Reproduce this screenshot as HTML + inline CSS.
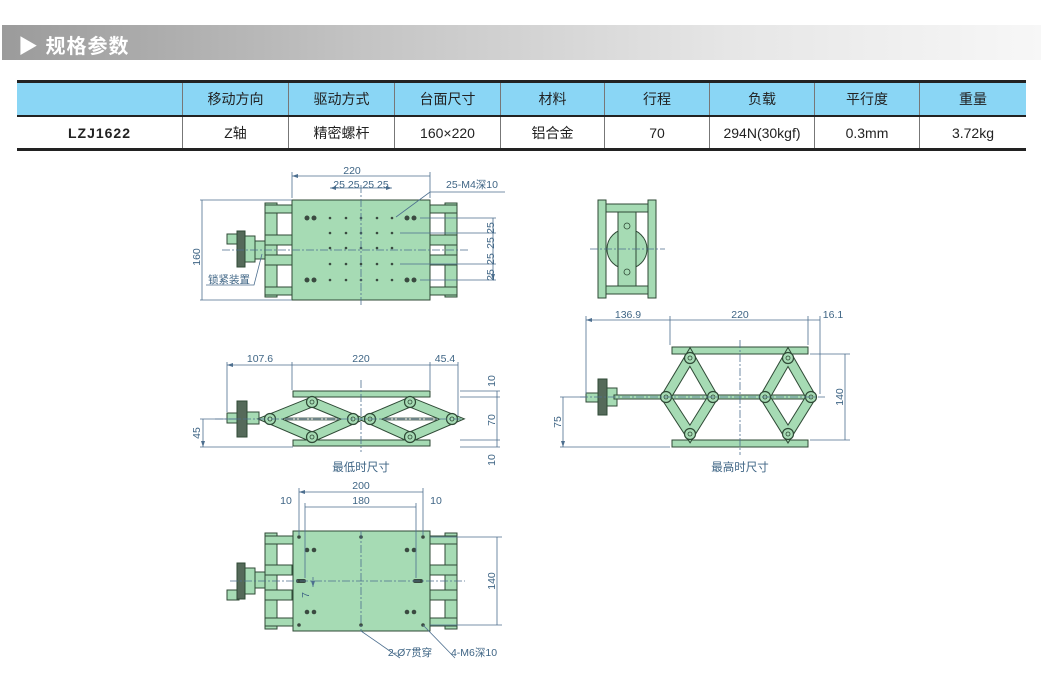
<!DOCTYPE html>
<html><head><meta charset="utf-8"><style>
body{margin:0;width:1041px;height:679px;background:#fff;position:relative;overflow:hidden;font-family:"Liberation Sans","Noto Sans CJK SC",sans-serif}
.bar{position:absolute;left:2px;top:25px;width:1039px;height:35px;background:linear-gradient(90deg,#9b9b9b 0%,#c4c4c4 35%,#e6e6e6 70%,#f7f7f7 100%)}
.bar span{position:absolute;left:16px;top:5px;color:#fff;font-weight:bold;font-size:20px;letter-spacing:1px}
table{position:absolute;left:17px;top:80px;border-collapse:collapse;font-size:14px;color:#222}
td{border-left:1px solid #777;text-align:center;padding:0}
tr.h td{background:#8ad6f5;height:32px;border-bottom:2px solid #222}
tr.r td{height:31px}
table{border-top:3px solid #222;border-bottom:3px solid #222}
td:first-child{border-left:none}
svg{position:absolute;left:0;top:0}
</style></head><body>
<div class="bar"><span>▶ 规格参数</span></div>
<table>
<tr class="h"><td style="width:165px"></td><td style="width:105px">移动方向</td><td style="width:105px">驱动方式</td><td style="width:105px">台面尺寸</td><td style="width:103px">材料</td><td style="width:104px">行程</td><td style="width:104px">负载</td><td style="width:104px">平行度</td><td style="width:106px">重量</td></tr>
<tr class="r"><td style="font-weight:bold;letter-spacing:1px">LZJ1622</td><td>Z轴</td><td>精密螺杆</td><td>160×220</td><td>铝合金</td><td>70</td><td>294N(30kgf)</td><td>0.3mm</td><td>3.72kg</td></tr>
</table>
<svg width="1041" height="679" viewBox="0 0 1041 679">
<defs>
<marker id="a" markerWidth="6" markerHeight="6" refX="6" refY="3" orient="auto-start-reverse" markerUnits="userSpaceOnUse"><path d="M0,1 L6,3 L0,5z" fill="#4d6f8f"/></marker>
<g id="row" fill="#3a4a40"><circle cx="330" cy="0" r="1.3"/><circle cx="346" cy="0" r="1.3"/><circle cx="361" cy="0" r="1.3"/><circle cx="377" cy="0" r="1.3"/><circle cx="392" cy="0" r="1.3"/></g>
</defs>
<g fill="#a6dbb4" stroke="#2f4a36" stroke-width="1">
<rect x="265" y="203" width="12" height="94"/><rect x="445" y="203" width="12" height="94"/>
<rect x="265" y="205" width="192" height="8"/><rect x="265" y="287" width="192" height="8"/>
<rect x="265" y="235" width="27" height="10"/><rect x="265" y="255" width="27" height="10"/>
<rect x="430" y="235" width="27" height="10"/><rect x="430" y="255" width="27" height="10"/>
<rect x="292" y="200" width="138" height="100"/>
<rect x="255" y="241" width="10" height="18"/>
<rect x="244" y="236" width="11" height="26"/>
<rect x="227" y="234" width="10" height="10" />
<rect x="237" y="231" width="8" height="36" fill="#556a5a"/>
<rect x="598" y="200" width="8" height="98"/><rect x="648" y="200" width="8" height="98"/>
<rect x="606" y="204" width="42" height="8"/><rect x="606" y="286" width="42" height="8"/>
<circle cx="627" cy="249" r="20"/>
<rect x="618" y="212" width="18" height="74"/>
<rect x="293" y="391" width="137" height="6"/><rect x="293" y="440" width="137" height="6"/>
<rect x="227" y="413" width="12" height="10"/>
<rect x="237" y="401" width="10" height="36" fill="#556a5a"/>
<rect x="247" y="412" width="12" height="12"/>
<rect x="672" y="347" width="136" height="7"/><rect x="672" y="440" width="136" height="7"/>
<rect x="586" y="393" width="14" height="9"/>
<rect x="598" y="379" width="9" height="36" fill="#556a5a"/>
<rect x="607" y="388" width="10" height="18"/>
<rect x="614" y="395" width="200" height="4"/>
<rect x="265" y="533" width="12" height="96"/><rect x="445" y="533" width="12" height="96"/>
<rect x="265" y="536" width="192" height="8"/><rect x="265" y="618" width="192" height="8"/>
<rect x="265" y="565" width="27" height="10"/><rect x="265" y="590" width="27" height="10"/>
<rect x="430" y="565" width="27" height="10"/><rect x="430" y="590" width="27" height="10"/>
<rect x="293" y="531" width="137" height="100"/>
<rect x="255" y="572" width="10" height="16"/>
<rect x="244" y="568" width="11" height="26"/>
<rect x="227" y="590" width="12" height="10"/>
<rect x="237" y="563" width="8" height="36" fill="#556a5a"/>
</g>
<path d="M259,418 H460 M260,420 H460" stroke="#2f4a36" stroke-width="0.8"/>
<g stroke-linecap="round" fill="none">
<g stroke="#2f4a36" stroke-width="10.5">
<path d="M270,419 L312,402 L353,419 L312,437 Z M370,419 L410,402 L452,419 L410,437 Z"/>
<path d="M690,357 L666,397 L690,434 L713,397 Z M788,357 L765,397 L788,434 L811,397 Z"/>
</g>
<g stroke="#a6dbb4" stroke-width="8.5">
<path d="M270,419 L312,402 L353,419 L312,437 Z M370,419 L410,402 L452,419 L410,437 Z"/>
<path d="M690,357 L666,397 L690,434 L713,397 Z M788,357 L765,397 L788,434 L811,397 Z"/>
</g>
</g>
<g fill="#a6dbb4" stroke="#2f4a36" stroke-width="1.2">
<circle cx="270" cy="419" r="5.5"/><circle cx="312" cy="402" r="5.5"/><circle cx="353" cy="419" r="5.5"/><circle cx="312" cy="437" r="5.5"/>
<circle cx="370" cy="419" r="5.5"/><circle cx="410" cy="402" r="5.5"/><circle cx="452" cy="419" r="5.5"/><circle cx="410" cy="437" r="5.5"/>
<circle cx="690" cy="358" r="5.5"/><circle cx="666" cy="397" r="5.5"/><circle cx="713" cy="397" r="5.5"/><circle cx="690" cy="434" r="5.5"/>
<circle cx="788" cy="358" r="5.5"/><circle cx="765" cy="397" r="5.5"/><circle cx="811" cy="397" r="5.5"/><circle cx="788" cy="434" r="5.5"/>
</g>
<g fill="none" stroke="#2f4a36" stroke-width="0.8">
<circle cx="270" cy="419" r="2"/><circle cx="312" cy="402" r="2"/><circle cx="353" cy="419" r="2"/><circle cx="312" cy="437" r="2"/>
<circle cx="370" cy="419" r="2"/><circle cx="410" cy="402" r="2"/><circle cx="452" cy="419" r="2"/><circle cx="410" cy="437" r="2"/>
<circle cx="690" cy="358" r="2"/><circle cx="666" cy="397" r="2"/><circle cx="713" cy="397" r="2"/><circle cx="690" cy="434" r="2"/>
<circle cx="788" cy="358" r="2"/><circle cx="765" cy="397" r="2"/><circle cx="811" cy="397" r="2"/><circle cx="788" cy="434" r="2"/>
<circle cx="627" cy="226" r="3" fill="#a6dbb4"/><circle cx="627" cy="272" r="3" fill="#a6dbb4"/>
</g>
<g fill="#3a4a40">
<circle cx="307" cy="218" r="2.5"/><circle cx="314" cy="218" r="2.5"/><circle cx="407" cy="218" r="2.5"/><circle cx="414" cy="218" r="2.5"/>
<circle cx="307" cy="280" r="2.5"/><circle cx="314" cy="280" r="2.5"/><circle cx="407" cy="280" r="2.5"/><circle cx="414" cy="280" r="2.5"/>
<use href="#row" y="218"/><use href="#row" y="233"/><use href="#row" y="248"/><use href="#row" y="264"/><use href="#row" y="280"/>
<circle cx="307" cy="550" r="2.3"/><circle cx="314" cy="550" r="2.3"/><circle cx="407" cy="550" r="2.3"/><circle cx="414" cy="550" r="2.3"/>
<circle cx="307" cy="612" r="2.3"/><circle cx="314" cy="612" r="2.3"/><circle cx="407" cy="612" r="2.3"/><circle cx="414" cy="612" r="2.3"/>
<circle cx="299" cy="537" r="1.8"/><circle cx="361" cy="537" r="1.8"/><circle cx="423" cy="537" r="1.8"/>
<circle cx="299" cy="625" r="1.8"/><circle cx="361" cy="625" r="1.8"/><circle cx="423" cy="625" r="1.8"/>
<rect x="296" y="579" width="10" height="4" rx="2"/><rect x="413" y="579" width="10" height="4" rx="2"/>
</g>
<g stroke="#4d6f8f" stroke-width="0.8" stroke-dasharray="8,2,2,2" fill="none">
<path d="M222,250 H470 M361,185 V305 M215,419 H462 M361,380 V452 M580,397 H825 M740,340 V455 M230,581 H465 M361,531 V631 M590,249 H665"/>
</g>
<g stroke="#4d6f8f" stroke-width="0.8" fill="none">
<path d="M292,198 V172 M430,198 V172 M200,200 H292 M200,300 H292 M496,218 H420 M496,233 H400 M496,264 H400 M496,280 H420"/>
<path d="M227,412 V362 M292,390 V362 M430,390 V362 M458,416 V362 M460,391 H500 M460,397 H500 M460,440 H500 M460,447 H500 M200,419 H240 M200,447 H293"/>
<path d="M586,394 V316 M670,345 V316 M808,345 V316 M820,394 V316 M810,354 H850 M810,440 H850 M560,397 H586 M560,447 H670"/>
<path d="M299,535 V488 M423,535 V488 M305,578 V503 M416,578 V503 M430,537 H502 M430,625 H502"/>
<path d="M396,217 L430,192 H505 M262,254 L254,285 H206 M361,631 L400,658 M423,625 L455,658"/>
</g>
<g stroke="#4d6f8f" stroke-width="0.8" fill="none" marker-start="url(#a)" marker-end="url(#a)">
<path d="M292,176 H430 M202,200 V300 M493,218 V233 M493,233 V248 M493,248 V264 M493,264 V280"/>
<path d="M227,365 H292 M292,365 H430 M430,365 H458 M497,391 V397 M497,397 V440 M497,440 V447 M203,419 V447"/>
<path d="M586,320 H670 M670,320 H808 M808,320 H820 M845,354 V440 M563,397 V447"/>
<path d="M299,492 H423 M305,507 H416 M497,537 V625 M313,577 V587"/>
<path d="M330,188 H392"/>
</g>
<g font-size="10.5" fill="#3f6585" font-family="Liberation Sans,'Noto Sans CJK SC',sans-serif" text-anchor="middle">
<text x="352" y="174">220</text>
<text x="361" y="188">25 25 25 25</text>
<text x="472" y="188">25-M4深10</text>
<text x="229" y="283">锁紧装置</text>
<text transform="translate(200,257) rotate(-90)">160</text>
<text transform="translate(494,228) rotate(-90)">25</text>
<text transform="translate(494,243) rotate(-90)">25</text>
<text transform="translate(494,259) rotate(-90)">25</text>
<text transform="translate(494,275) rotate(-90)">25</text>
<text x="260" y="362">107.6</text>
<text x="361" y="362">220</text>
<text x="445" y="362">45.4</text>
<text transform="translate(495,381) rotate(-90)">10</text>
<text transform="translate(495,420) rotate(-90)">70</text>
<text transform="translate(495,460) rotate(-90)">10</text>
<text transform="translate(200,433) rotate(-90)">45</text>
<text x="361" y="471" font-size="11.5">最低时尺寸</text>
<text x="628" y="318">136.9</text>
<text x="740" y="318">220</text>
<text x="833" y="318">16.1</text>
<text transform="translate(843,397) rotate(-90)">140</text>
<text transform="translate(561,422) rotate(-90)">75</text>
<text x="740" y="471" font-size="11.5">最高时尺寸</text>
<text x="361" y="489">200</text>
<text x="361" y="504">180</text>
<text x="286" y="504">10</text>
<text x="436" y="504">10</text>
<text transform="translate(495,581) rotate(-90)">140</text>
<text transform="translate(309,595) rotate(-90)">7</text>
<text x="410" y="656">2-Ø7贯穿</text>
<text x="474" y="656">4-M6深10</text>
</g>
</svg>
</body></html>
